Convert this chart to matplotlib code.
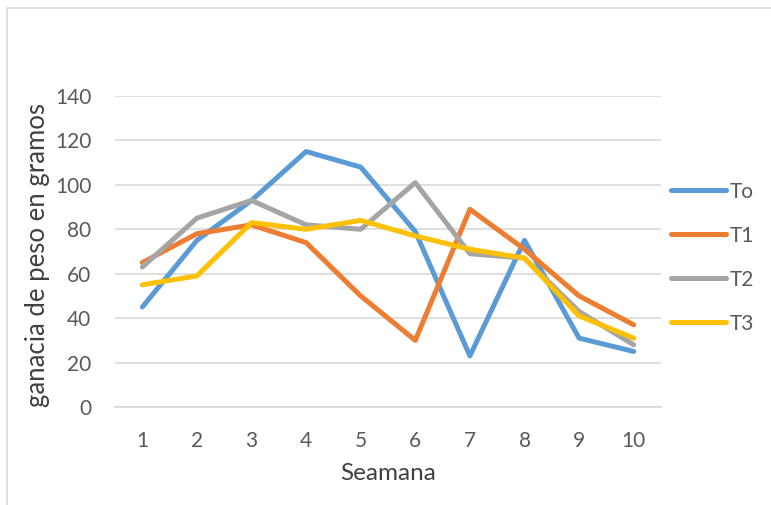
import matplotlib
matplotlib.use("Agg")
import matplotlib.pyplot as plt
from matplotlib.patches import Rectangle

weeks = [1, 2, 3, 4, 5, 6, 7, 8, 9, 10]
t0 = [45, 75, 93, 115, 108, 79, 23, 75, 31, 25]
t1 = [65, 78, 82, 74, 50, 30, 89, 71, 50, 37]
t2 = [63, 85, 93, 82, 80, 101, 69, 67, 43, 28]
t3 = [55, 59, 83, 80, 84, 77, 71, 67, 41, 31]
names = ["To", "T1", "T2", "T3"]
colors = ["#5B9BD5", "#ED7D31", "#A5A5A5", "#FFC000"]
yticks = [0, 20, 40, 60, 80, 100, 120, 140]

plt.rcParams['font.family'] = ['Lato', 'DejaVu Sans']

W, H = 771, 505
fig = plt.figure(figsize=(W / 100, H / 100), dpi=100)
ax = fig.add_axes([115 / W, 1 - 407 / H, (661 - 115) / W, (407 - 96) / H])

for series, name, c in zip([t0, t1, t2, t3], names, colors):
   ax.plot(weeks, series, color=c, linewidth=3.6, label=name, solid_capstyle='round', solid_joinstyle='round')

ax.set_xlim(0.5, 10.5)
ax.set_ylim(0, 140)
ax.set_yticks(yticks)
ax.set_xticks(weeks)
ax.grid(axis='y', color='#D9D9D9', linewidth=1.2)
ax.set_axisbelow(True)
for side in ['top', 'right', 'left']:
   ax.spines[side].set_visible(False)
ax.spines['bottom'].set_color('#D9D9D9')
ax.spines['bottom'].set_linewidth(1.2)
ax.tick_params(length=0, labelsize=15, labelcolor='#595959')
ax.tick_params(axis='x', pad=17)
ax.tick_params(axis='y', pad=17)

ax.set_xlabel("Seamana", fontsize=17.5, color='#404040', va='center')
ax.xaxis.set_label_coords(0.5, (407 - 473) / 311)
ax.set_ylabel("ganacia de peso en gramos", fontsize=18.5, color='#404040', va='center')
ax.yaxis.set_label_coords((38 - 115) / 546, (407 - 255) / 311)

leg = ax.legend(loc='center left', bbox_to_anchor=(1.0, 0.48), frameon=False, fontsize=15,
                handlelength=2.6, labelspacing=1.15, handletextpad=0.2, borderaxespad=0.1)
for t in leg.get_texts():
   t.set_color('#595959')

fig.patches.append(Rectangle((7 / W, -0.1), 1, 1.1 - 8 / H, transform=fig.transFigure,
                             fill=False, edgecolor='#D9D9D9', linewidth=1.2))

fig.savefig("out.png", dpi=100)
